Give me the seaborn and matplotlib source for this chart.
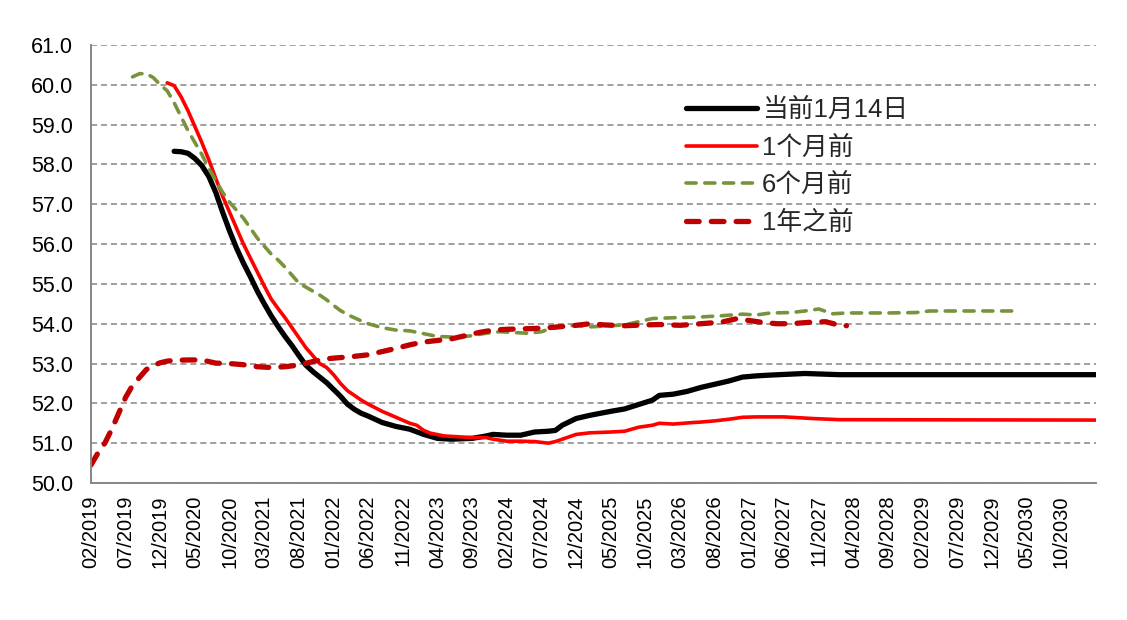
import pandas as pd
import numpy as np
import matplotlib
matplotlib.use('Agg')
import matplotlib.pyplot as plt
import seaborn as sns

# x values are months since 02/2019
cur_m = [12, 13, 14, 15, 16, 17, 18, 19, 20, 21, 22, 23, 24, 25, 26, 27, 28, 29, 30, 31,
         32, 33, 34, 35, 36, 37, 38, 39, 40, 42, 44, 46, 48, 50, 52, 55, 57, 58, 60, 62,
         64, 66, 67, 68, 70, 72, 75, 77, 79, 81, 82, 84, 86, 88, 90, 92, 94, 96, 98, 103,
         108, 145]
cur_v = [58.33, 58.32, 58.28, 58.15, 57.97, 57.7, 57.3, 56.8, 56.33, 55.9, 55.52, 55.18,
         54.82, 54.5, 54.2, 53.93, 53.68, 53.45, 53.2, 52.96, 52.8, 52.66, 52.52, 52.35,
         52.18, 51.98, 51.85, 51.75, 51.68, 51.52, 51.42, 51.35, 51.22, 51.12, 51.1, 51.12,
         51.18, 51.22, 51.2, 51.2, 51.28, 51.3, 51.32, 51.45, 51.62, 51.7, 51.8, 51.86,
         51.97, 52.08, 52.2, 52.23, 52.3, 52.4, 52.48, 52.56, 52.66, 52.69, 52.71, 52.75,
         52.72, 52.72]

m1_m = [11, 12, 13, 14, 15, 16, 17, 18, 19, 20, 21, 22, 23, 24, 25, 26, 27, 28, 29, 30,
        31, 32, 33, 34, 35, 36, 37, 38, 39, 40, 42, 44, 46, 47, 48, 49, 51, 53, 55, 57,
        58, 60, 62, 64, 66, 67, 68, 70, 72, 75, 77, 79, 81, 82, 84, 87, 88, 90, 92, 94,
        96, 100, 104, 108, 145]
m1_v = [60.05, 59.98, 59.7, 59.35, 58.95, 58.55, 58.12, 57.65, 57.2, 56.8, 56.4, 56.0,
        55.65, 55.3, 54.95, 54.62, 54.38, 54.15, 53.9, 53.65, 53.4, 53.2, 53.0, 52.9,
        52.72, 52.5, 52.32, 52.2, 52.08, 51.98, 51.8, 51.65, 51.5, 51.45, 51.32, 51.25,
        51.18, 51.16, 51.14, 51.14, 51.1, 51.05, 51.05, 51.04, 51.0, 51.04, 51.1, 51.22,
        51.26, 51.28, 51.3, 51.4, 51.45, 51.5, 51.48, 51.52, 51.53, 51.56, 51.6, 51.65,
        51.66, 51.66, 51.62, 51.59, 51.58]

m6_m = [6, 7, 8, 9, 10, 11, 12, 13, 14, 15, 16, 17, 18, 19, 20, 21, 22, 23, 24, 25, 26,
        27, 28, 29, 30, 31, 32, 33, 34, 35, 36, 37, 38, 39, 40, 42, 44, 46, 48, 50, 53,
        55, 57, 59, 61, 63, 65, 66, 68, 70, 72, 74, 77, 79, 81, 84, 88, 91, 94, 96, 98,
        101, 103, 105, 107, 109, 115, 119, 121, 127, 133]
m6_v = [60.2, 60.28, 60.28, 60.18, 60.0, 59.85, 59.55, 59.2, 58.85, 58.55, 58.25, 57.9,
        57.6, 57.3, 57.05, 56.85, 56.65, 56.4, 56.15, 55.95, 55.75, 55.6, 55.42, 55.22,
        55.02, 54.92, 54.82, 54.72, 54.6, 54.46, 54.33, 54.23, 54.15, 54.07, 54.0, 53.9,
        53.84, 53.82, 53.75, 53.68, 53.66, 53.7, 53.76, 53.8, 53.78, 53.76, 53.8, 53.86,
        53.93, 53.96, 53.92, 53.94, 53.97, 54.05, 54.13, 54.15, 54.17, 54.2, 54.24, 54.22,
        54.27, 54.28, 54.32, 54.37, 54.25, 54.27, 54.27, 54.28, 54.32, 54.32, 54.32]

y1_m = [0, 1, 2, 3, 4, 5, 6, 7, 8, 9, 10, 11, 12, 14, 16, 17, 18, 20, 22, 24, 26, 28, 30,
        32, 34, 36, 38, 40, 42, 44, 46, 48, 50, 52, 54, 56, 58, 60, 62, 64, 66, 68, 70,
        72, 74, 77, 80, 82, 85, 88, 91, 93, 95, 97, 99, 101, 104, 106, 108, 109]
y1_v = [50.45, 50.75, 51.0, 51.35, 51.75, 52.15, 52.45, 52.65, 52.85, 52.95, 53.02, 53.06,
        53.08, 53.09, 53.09, 53.05, 53.01, 53.0, 52.97, 52.92, 52.9, 52.92, 52.96, 53.05,
        53.12, 53.15, 53.18, 53.22, 53.3, 53.38, 53.47, 53.54, 53.58, 53.62, 53.7, 53.78,
        53.84, 53.86, 53.87, 53.88, 53.9, 53.93, 53.96, 54.0, 53.97, 53.95, 53.97, 53.98,
        53.96, 54.0, 54.04, 54.12, 54.08, 54.03, 54.0, 54.0, 54.04, 54.05, 53.96, 53.95]

series_names = ['当前1月14日', '1个月前', '6个月前', '1年之前']
tick_labels = [(pd.Period('2019-02', 'M') + 5 * i).strftime('%m/%Y') for i in range(29)] + ['']

sns.set_style('white')
plt.rcParams['font.family'] = ['Liberation Sans', 'Noto Sans CJK SC', 'DejaVu Sans']

fig = plt.figure(figsize=(11.27, 6.2), dpi=100)
ax = fig.add_axes([0.0807, 0.221, 0.8918, 0.7064])

sns.lineplot(x=cur_m, y=cur_v, ax=ax, color='#000000', lw=3.8, solid_capstyle='round')
sns.lineplot(x=m1_m, y=m1_v, ax=ax, color='#ff0000', lw=2.6, solid_capstyle='round')
sns.lineplot(x=m6_m, y=m6_v, ax=ax, color='#77933c', lw=2.6,
             linestyle=(0, (2.8, 2.4)), dash_capstyle='round')
sns.lineplot(x=y1_m, y=y1_v, ax=ax, color='#c00000', lw=3.8,
             linestyle=(0, (2.4, 2.3)), dash_capstyle='round')
series_lines = list(ax.get_lines())

ax.set_xlim(0, 145)
ax.set_ylim(50, 61)
ax.set_xticks(np.arange(0, 146, 5))
ax.set_xticklabels(tick_labels, rotation=90)
ax.set_yticks(np.arange(50, 61.1, 1))
ax.set_yticklabels([f'{v:.1f}' for v in np.arange(50, 61.1, 1)])
ax.tick_params(axis='both', colors='#000000', length=5, width=1.2,
               direction='out', color='#868686')
ax.tick_params(axis='x', labelsize=14.5, pad=4)
ax.tick_params(axis='y', labelsize=15.5, pad=8)

ax.set_axisbelow(True)
ax.grid(axis='y', color='#868686', lw=1.1, linestyle=(0, (4, 2.5)))
ax.grid(axis='x', visible=False)

for side in ['top', 'right']:
    ax.spines[side].set_visible(False)
for side in ['left', 'bottom']:
    ax.spines[side].set_color('#868686')
    ax.spines[side].set_linewidth(1.4)
ax.set_xlabel('')
ax.set_ylabel('')

leg = ax.legend(series_lines, series_names, loc='upper left',
                bbox_to_anchor=(686 / 1127, 1 - 98 / 620),
                bbox_transform=fig.transFigure, frameon=False, fontsize=18.5,
                handlelength=2.75, handletextpad=0.2, labelspacing=0.52,
                borderpad=0, borderaxespad=0)

fig.savefig('out.png', dpi=100)
